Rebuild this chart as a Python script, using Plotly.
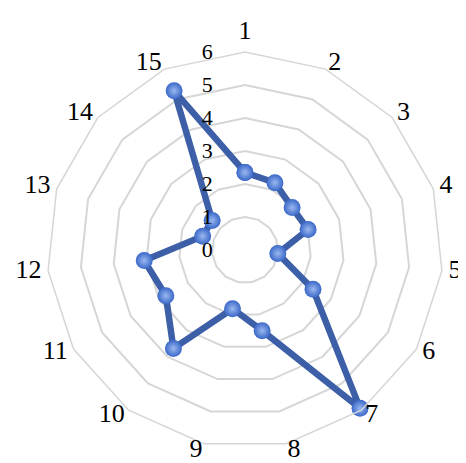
import math
import plotly.graph_objects as go

categories = [str(i) for i in range(1, 16)]
values = [2.35, 2.23, 1.92, 2.01, 1.0, 2.38, 5.93, 2.5, 1.82, 3.69, 2.77, 3.07, 1.35, 1.34, 5.28]
radial_ticks = [0, 1, 2, 3, 4, 5, 6]

r_closed = values + values[:1]
theta_closed = categories + categories[:1]

FONT = "Liberation Serif, Times New Roman, serif"
W, H = 466, 463
CX, CY = 237, 242          # chart centre (px from top-left of figure)
R_MAIN = 198               # pixel radius of the 0..6 scale
RMAX = 6
LABEL_R = 6.2              # category-label anchor radius in data units
R_LAB_MAX = 6.6
R_LAB = R_MAIN / RMAX * R_LAB_MAX


def dom(cx, cy, r):
    return dict(x=[(cx - r) / W, (cx + r) / W],
                y=[(H - cy - r) / H, (H - cy + r) / H])


# Excel-like label anchoring: text grows outward from the anchor point
label_pos = []
n = len(categories)
for i in range(n):
    ang = math.radians(90 - 360 * i / n)
    c = math.cos(ang)
    if abs(c) < 1e-6:
        label_pos.append("top center")
    elif c > 0:
        label_pos.append("middle right")
    else:
        label_pos.append("middle left")

fig = go.Figure()
fig.add_trace(go.Scatterpolar(
    r=r_closed,
    theta=theta_closed,
    mode="lines+markers",
    line=dict(color="#3c5fa8", width=6.5),
    marker=dict(size=17, color="#3a68c8",
                gradient=dict(type="radial", color="#9ab8f0"),
                line=dict(width=0)),
    showlegend=False,
    hoverinfo="skip",
    subplot="polar",
))
fig.add_trace(go.Scatterpolar(
    r=[LABEL_R] * n,
    theta=categories,
    mode="text",
    text=categories,
    textposition=label_pos,
    textfont=dict(family=FONT, size=26, color="black"),
    showlegend=False,
    hoverinfo="skip",
    subplot="polar2",
))

fig.update_layout(
    width=W, height=H,
    margin=dict(l=0, r=0, t=0, b=0),
    paper_bgcolor="white",
    font=dict(family=FONT, color="black"),
    polar=dict(
        bgcolor="white",
        gridshape="linear",
        domain=dom(CX, CY, R_MAIN),
        angularaxis=dict(
            direction="clockwise", rotation=90,
            type="category",
            categoryarray=categories,
            showline=True, linecolor="#d6d6d6", linewidth=1.5,
            showgrid=False,
            ticks="", showticklabels=False,
        ),
        radialaxis=dict(
            range=[0, RMAX], angle=90, side="counterclockwise",
            tickvals=radial_ticks, ticktext=[str(t) for t in radial_ticks],
            showline=False,
            showgrid=True, gridcolor="#d6d6d6", gridwidth=1.5,
            ticks="outside", ticklen=24, tickcolor="rgba(0,0,0,0)",
            tickfont=dict(family=FONT, size=22, color="black"),
            tickangle=90,
            layer="above traces",
        ),
    ),
    polar2=dict(
        bgcolor="rgba(0,0,0,0)",
        domain=dom(CX, CY, R_LAB),
        angularaxis=dict(
            direction="clockwise", rotation=90,
            type="category",
            categoryarray=categories,
            showline=False, showgrid=False,
            ticks="", showticklabels=False,
        ),
        radialaxis=dict(
            range=[0, R_LAB_MAX], visible=False,
            showline=False, showgrid=False, showticklabels=False, ticks="",
        ),
    ),
)

fig.write_html("out.html")
